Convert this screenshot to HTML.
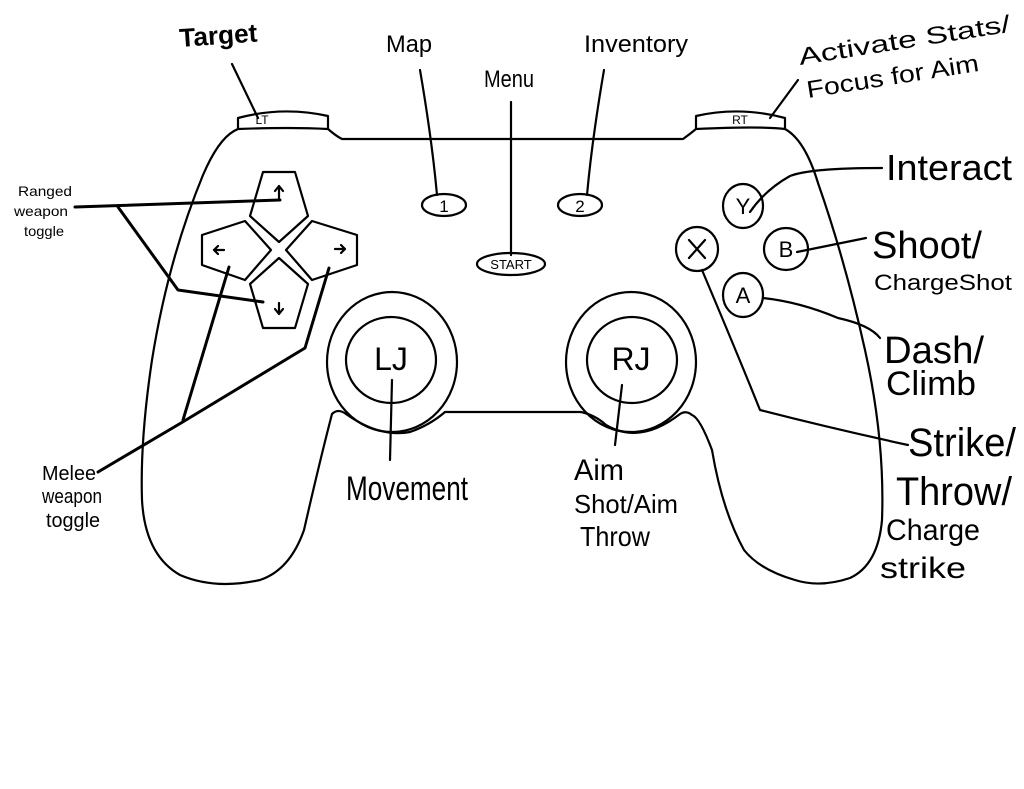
<!DOCTYPE html>
<html><head><meta charset="utf-8"><style>
html,body{margin:0;padding:0;background:#fff;}
svg{display:block;}
text{font-family:"Liberation Sans",sans-serif;fill:#000;}
</style></head><body>
<svg width="1024" height="789" viewBox="0 0 1024 789" xmlns="http://www.w3.org/2000/svg">
<g fill="none" stroke="#000" stroke-width="2.2" stroke-linejoin="round" stroke-linecap="round">
<!-- bumpers -->
<path d="M238,129 L238,118 Q283,106 328,116 L328,129"/>
<path d="M696,129 L696,116 Q740,106 785,118 L785,129"/>
<!-- body -->
<path d="M328,129 Q336,136 342,139 L683,139 Q690,134 696,129 Q760,126 785,129 Q805,140 818,183 Q845,260 865,350 Q885,440 882,520 Q878,565 850,578 Q820,588 795,580 Q760,570 744,550 Q722,510 712,450 Q700,418 692,415 Q686,410 680,414 Q640,445 606,425 Q595,415 581,412 L445,412 Q430,425 410,432 Q380,438 346,414 Q338,408 332,414 Q320,460 304,530 Q290,570 260,580 Q215,590 180,575 Q145,555 142,500 Q140,440 152,360 Q168,260 203,175 Q218,140 234,131 Q238,129 238,129 Q290,127 328,129"/>
<!-- dpad -->
<path d="M263,172 L295,172 L308,216 L279,242 L250,216 Z"/>
<path d="M202,235 L245,221 L271,250 L245,280 L202,265 Z"/>
<path d="M312,221 L357,235 L357,265 L312,280 L286,250 Z"/>
<path d="M279,258 L308,284 L295,328 L263,328 L250,284 Z"/>
<!-- arrows -->
<path d="M279,198 L279,186 M275,191 L279,186 L283,191"/>
<path d="M279,303 L279,314 M275,309 L279,314 L283,309"/>
<path d="M214,250 L224,250 M218,246 L214,250 L218,254"/>
<path d="M335,249 L345,249 M341,245 L345,249 L341,253"/>
<!-- small buttons -->
<ellipse cx="444" cy="205" rx="22" ry="11"/>
<ellipse cx="580" cy="205" rx="22" ry="11"/>
<ellipse cx="511" cy="264" rx="34" ry="11"/>
<!-- joysticks -->
<ellipse cx="392" cy="362" rx="65" ry="70"/>
<ellipse cx="391" cy="360" rx="45" ry="43"/>
<ellipse cx="631" cy="362" rx="65" ry="70"/>
<ellipse cx="632" cy="360" rx="45" ry="43"/>
<!-- face buttons -->
<ellipse cx="743" cy="206" rx="20" ry="22"/>
<ellipse cx="697" cy="249" rx="21" ry="22"/>
<ellipse cx="786" cy="249" rx="22" ry="21"/>
<ellipse cx="743" cy="295" rx="20" ry="22"/>
<path d="M689,240 L705,258 M705,240 L689,258"/>
<!-- leaders -->
<path d="M232,64 L258,118"/>
<path d="M420,70 Q432,140 437,195"/>
<path d="M511,102 L511,255"/>
<path d="M604,70 Q592,140 587,195"/>
<path d="M798,80 L770,118"/>
<path d="M882,168 Q810,168 790,176 Q765,190 750,212"/>
<path d="M866,238 L797,252"/>
<path d="M880,338 Q870,325 838,318 Q800,302 763,298"/>
<path d="M702,270 Q740,360 760,410 Q830,428 908,445"/>
<path d="M392,380 L390,460"/>
<path d="M622,385 L615,445"/>
</g>
<g fill="none" stroke="#000" stroke-width="3" stroke-linecap="round" stroke-linejoin="round">
<path d="M75,207 L280,200"/>
<path d="M118,207 L178,290 L263,302"/>
<path d="M98,472 L181,423 L305,348 L329,268"/>
<path d="M183,420 L229,267"/>
</g>
<!-- labels -->
<text x="262" y="124" font-size="12" text-anchor="middle">LT</text>
<text x="740" y="124" font-size="12" text-anchor="middle">RT</text>
<text x="444" y="212" font-size="17" text-anchor="middle">1</text>
<text x="580" y="212" font-size="17" text-anchor="middle">2</text>
<text x="511" y="269" font-size="13" text-anchor="middle">START</text>
<text x="391" y="370" font-size="32" text-anchor="middle">LJ</text>
<text x="631" y="370" font-size="32" text-anchor="middle">RJ</text>
<text x="743" y="214" font-size="22" text-anchor="middle">Y</text>
<text x="786" y="257" font-size="22" text-anchor="middle">B</text>
<text x="743" y="303" font-size="22" text-anchor="middle">A</text>
<text x="180" y="47" font-size="26" font-weight="bold" textLength="78" lengthAdjust="spacingAndGlyphs" transform="rotate(-4 180 47)">Target</text>
<text x="386" y="52" font-size="24" textLength="46" lengthAdjust="spacingAndGlyphs">Map</text>
<text x="484" y="87" font-size="24" textLength="50" lengthAdjust="spacingAndGlyphs">Menu</text>
<text x="584" y="52" font-size="24" textLength="104" lengthAdjust="spacingAndGlyphs">Inventory</text>
<text x="800" y="65" font-size="24" textLength="214" lengthAdjust="spacingAndGlyphs" transform="rotate(-9 800 65)">Activate Stats/</text>
<text x="808" y="98" font-size="24" textLength="174" lengthAdjust="spacingAndGlyphs" transform="rotate(-9 808 98)">Focus for Aim</text>
<text x="886" y="180" font-size="36" textLength="126" lengthAdjust="spacingAndGlyphs">Interact</text>
<text x="872" y="258" font-size="38" textLength="110" lengthAdjust="spacingAndGlyphs">Shoot/</text>
<text x="874" y="290" font-size="22" textLength="138" lengthAdjust="spacingAndGlyphs">ChargeShot</text>
<text x="884" y="363" font-size="38" textLength="100" lengthAdjust="spacingAndGlyphs">Dash/</text>
<text x="886" y="395" font-size="34" textLength="90" lengthAdjust="spacingAndGlyphs">Climb</text>
<text x="908" y="456" font-size="40" textLength="108" lengthAdjust="spacingAndGlyphs">Strike/</text>
<text x="896" y="505" font-size="40" textLength="116" lengthAdjust="spacingAndGlyphs">Throw/</text>
<text x="886" y="540" font-size="30" textLength="94" lengthAdjust="spacingAndGlyphs">Charge</text>
<text x="880" y="578" font-size="30" textLength="86" lengthAdjust="spacingAndGlyphs">strike</text>
<text x="18" y="196" font-size="14" textLength="54" lengthAdjust="spacingAndGlyphs">Ranged</text>
<text x="14" y="216" font-size="14" textLength="54" lengthAdjust="spacingAndGlyphs">weapon</text>
<text x="24" y="236" font-size="14" textLength="40" lengthAdjust="spacingAndGlyphs">toggle</text>
<text x="42" y="480" font-size="20" textLength="54" lengthAdjust="spacingAndGlyphs">Melee</text>
<text x="42" y="503" font-size="20" textLength="60" lengthAdjust="spacingAndGlyphs">weapon</text>
<text x="46" y="527" font-size="20" textLength="54" lengthAdjust="spacingAndGlyphs">toggle</text>
<text x="346" y="500" font-size="34" textLength="122" lengthAdjust="spacingAndGlyphs">Movement</text>
<text x="574" y="480" font-size="30" textLength="50" lengthAdjust="spacingAndGlyphs">Aim</text>
<text x="574" y="513" font-size="26" textLength="104" lengthAdjust="spacingAndGlyphs">Shot/Aim</text>
<text x="580" y="546" font-size="28" textLength="70" lengthAdjust="spacingAndGlyphs">Throw</text>
</svg>
</body></html>
